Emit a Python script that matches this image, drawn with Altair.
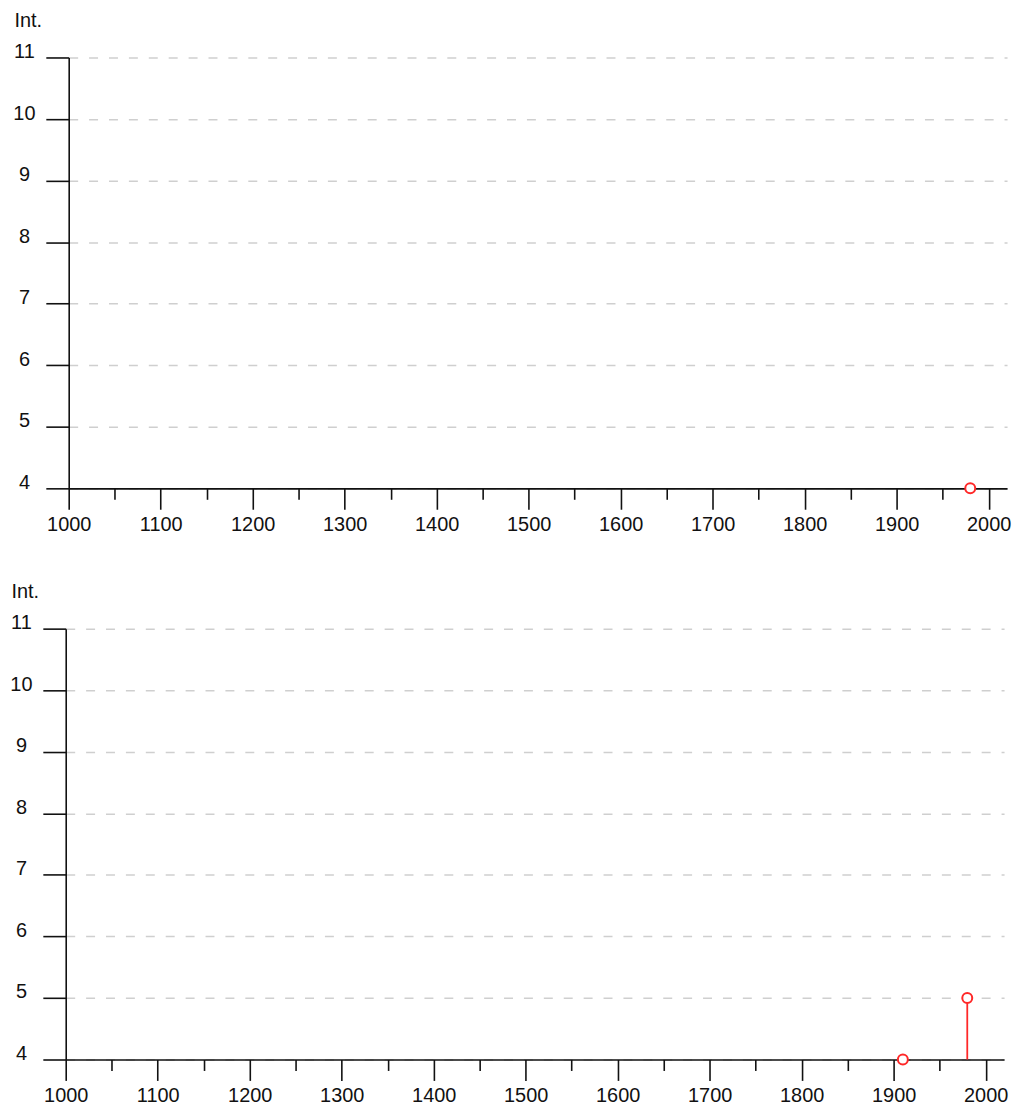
import altair as alt
import pandas as pd

# ---- data ----
X_MAJOR = [1000, 1100, 1200, 1300, 1400, 1500, 1600, 1700, 1800, 1900, 2000]
X_MINOR = [1050, 1150, 1250, 1350, 1450, 1550, 1650, 1750, 1850, 1950]
Y_TICKS = [4, 5, 6, 7, 8, 9, 10, 11]
X_DOMAIN = [1000, 2020]
Y_DOMAIN = [4, 11]
Y_BASE = 4

top_years = [1980]
top_int = [4]

bottom_years = [1910, 1980]
bottom_int = [4, 5]

RED = "#ff2828"
INK = "#111111"
FONT = "Liberation Sans"
FS = 20


def panel(years, ints):
    df = pd.DataFrame({"year": years, "int": ints, "base": [Y_BASE] * len(years)})
    base = alt.Chart(df)
    xscale = alt.Scale(domain=X_DOMAIN, nice=False, zero=False)
    yscale = alt.Scale(domain=Y_DOMAIN, nice=False, zero=False)

    major_axis = alt.Axis(
        orient="bottom", values=X_MAJOR, format="d", tickSize=21, tickWidth=1.6,
        tickColor=INK, domainColor=INK, domainWidth=1.6, labelPadding=5,
        labelFlush=False, labelOverlap=False, labelFont=FONT, labelFontSize=FS,
        labelColor=INK, grid=False, title=None,
    )
    minor_axis = alt.Axis(
        orient="bottom", values=X_MINOR, tickSize=11, tickWidth=1.6, tickColor=INK,
        labels=False, domain=False, grid=False, title=None,
    )
    y_axis = alt.Axis(
        values=Y_TICKS, format="d", tickSize=23, tickWidth=1.6, tickColor=INK,
        domainColor=INK, domainWidth=1.6,
        labelAlign="center", labelBaseline="alphabetic", labelPadding=22,
        labelFont=FONT, labelFontSize=FS, labelColor=INK, labelFlush=False,
        grid=True, gridDash=[9, 11], gridColor="#cfcfcf", gridWidth=1.5,
        title="Int.", titleAngle=0, titleAlign="left", titleBaseline="alphabetic",
        titleX=-55, titleY=-31, titleFont=FONT, titleFontSize=FS,
        titleFontWeight="normal", titleColor=INK,
    )

    stems = base.mark_rule(color=RED, strokeWidth=1.8).encode(
        x=alt.X("year:Q", scale=xscale, axis=major_axis),
        y=alt.Y("int:Q", scale=yscale, axis=y_axis),
        y2="base:Q",
    )
    pts = base.mark_point(
        shape="circle", filled=True, fill="white", stroke=RED,
        strokeWidth=2, size=100, opacity=1,
    ).encode(
        x=alt.X("year:Q", scale=xscale, axis=minor_axis),
        y=alt.Y("int:Q", scale=yscale, axis=y_axis),
    )
    return alt.layer(stems, pts).resolve_axis(x="independent").properties(
        width=943, height=433
    )


def spacer(w):
    # an empty, invisible strip used only to offset a panel horizontally
    return alt.Chart(pd.DataFrame({"s": [0]})).mark_point(opacity=0, size=0).encode(
        x=alt.value(0), y=alt.value(0)
    ).properties(width=w, height=1)


top_row = alt.hconcat(spacer(4), panel(top_years, top_int), spacing=0)
bottom_row = alt.hconcat(spacer(1), panel(bottom_years, bottom_int), spacing=0)

chart = alt.vconcat(top_row, bottom_row, spacing=48).configure_view(
    stroke=None
).properties(padding={"left": 0, "top": 0, "right": 5, "bottom": -3})

chart.save("out.html", embed_options={"renderer": "svg", "actions": False})
